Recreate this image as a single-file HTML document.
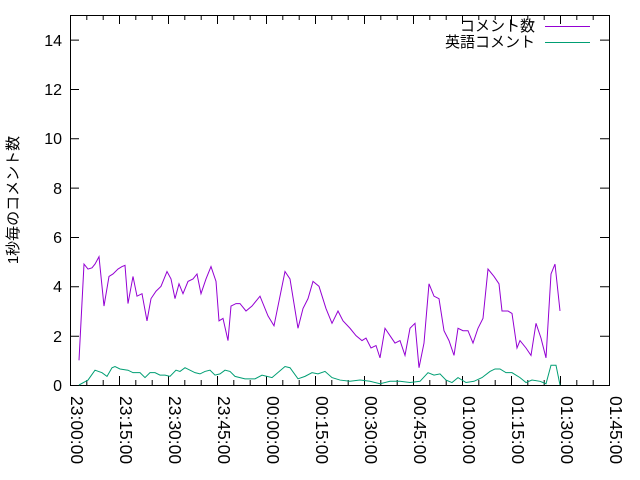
<!DOCTYPE html>
<html><head><meta charset="utf-8"><style>
body{margin:0;background:#fff}
svg{display:block;font-family:"Liberation Sans","Noto Sans CJK JP",sans-serif;font-size:16px}
</style></head><body>
<svg width="640" height="480" viewBox="0 0 640 480" xmlns="http://www.w3.org/2000/svg">
<rect width="640" height="480" fill="#fff"/>
<g stroke="#000" stroke-width="1" fill="none">
<path d="M70.5,15.5 V385.5 H609.5 V15.5 Z"/>
<path d="M70,385.5h9M609,385.5h-9M70,336.2h9M609,336.2h-9M70,286.8h9M609,286.8h-9M70,237.5h9M609,237.5h-9M70,188.1h9M609,188.1h-9M70,138.8h9M609,138.8h-9M70,89.5h9M609,89.5h-9M70,40.1h9M609,40.1h-9"/>
<path d="M70.5,385v-9M119.5,385v-9M168.5,385v-9M217.5,385v-9M266.5,385v-9M315.5,385v-9M364.5,385v-9M413.5,385v-9M462.5,385v-9M511.5,385v-9M560.5,385v-9M70.5,15v9M119.5,15v9M168.5,15v9M217.5,15v9M266.5,15v9M315.5,15v9M364.5,15v9M413.5,15v9M462.5,15v9M511.5,15v9M560.5,15v9"/>
<path d="M86.8,385v-5M103.2,385v-5M135.8,385v-5M152.2,385v-5M184.8,385v-5M201.2,385v-5M233.8,385v-5M250.2,385v-5M282.8,385v-5M299.2,385v-5M331.8,385v-5M348.2,385v-5M380.8,385v-5M397.2,385v-5M429.8,385v-5M446.2,385v-5M478.8,385v-5M495.2,385v-5M527.8,385v-5M544.2,385v-5M576.8,385v-5M593.2,385v-5M86.8,15v5M103.2,15v5M135.8,15v5M152.2,15v5M184.8,15v5M201.2,15v5M233.8,15v5M250.2,15v5M282.8,15v5M299.2,15v5M331.8,15v5M348.2,15v5M380.8,15v5M397.2,15v5M429.8,15v5M446.2,15v5M478.8,15v5M495.2,15v5M527.8,15v5M544.2,15v5M576.8,15v5M593.2,15v5"/>
</g>
<g text-anchor="end" fill="#000">
<text x="62" y="391">0</text><text x="62" y="342">2</text><text x="62" y="292">4</text><text x="62" y="243">6</text><text x="62" y="194">8</text><text x="62" y="144">10</text><text x="62" y="95">12</text><text x="62" y="46">14</text>
</g>
<g fill="#000" font-size="17.5">
<text transform="translate(71,396) rotate(90)">23:00:00</text>
<text transform="translate(120,396) rotate(90)">23:15:00</text>
<text transform="translate(169,396) rotate(90)">23:30:00</text>
<text transform="translate(218,396) rotate(90)">23:45:00</text>
<text transform="translate(267,396) rotate(90)">00:00:00</text>
<text transform="translate(316,396) rotate(90)">00:15:00</text>
<text transform="translate(365,396) rotate(90)">00:30:00</text>
<text transform="translate(414,396) rotate(90)">00:45:00</text>
<text transform="translate(463,396) rotate(90)">01:00:00</text>
<text transform="translate(512,396) rotate(90)">01:15:00</text>
<text transform="translate(561,396) rotate(90)">01:30:00</text>
<text transform="translate(610,396) rotate(90)">01:45:00</text>
</g>
<g fill="#000">
<text transform="translate(18,200) rotate(-90)" text-anchor="middle" font-size="15">1秒毎のコメント数</text>
<text x="535" y="31" text-anchor="end" font-size="15">コメント数</text>
<text x="535" y="47" text-anchor="end" font-size="15">英語コメント</text>
</g>
<path d="M545,26.5H590" stroke="#9400d3"/>
<path d="M545,42.5H590" stroke="#009e73"/>
<g transform="translate(0,385) scale(1,-24.67)" fill="none">
<polyline vector-effect="non-scaling-stroke" stroke="#9400d3" stroke-width="1" points="79,1 84,4.9 88,4.7 92,4.75 95,4.9 99,5.2 104,3.2 109,4.4 113,4.5 118,4.7 122,4.8 125,4.85 128,3.3 133,4.4 137,3.6 142,3.7 147,2.6 151,3.5 156,3.8 161,4 167,4.6 171,4.3 175,3.5 179,4.1 183,3.7 188,4.2 193,4.3 197,4.5 201,3.7 206,4.3 211,4.8 216,4.2 219,2.6 223,2.7 228,1.8 231,3.2 236,3.3 240,3.3 246,3 252,3.2 260,3.6 268,2.8 274,2.4 285,4.6 290,4.3 298,2.3 303,3.1 308,3.5 313,4.2 319,4 326,3.1 332,2.5 338,3 343,2.6 350,2.3 356,2 362,1.8 366,1.9 371,1.5 376,1.6 380,1.1 385,2.3 390,2 395,1.7 400,1.8 405,1.2 410,2.3 415,2.5 419,0.7 424,1.7 429,4.1 434,3.6 439,3.5 444,2.2 449,1.8 454,1.2 458,2.3 463,2.2 468,2.2 473,1.7 478,2.3 483,2.7 488,4.7 494,4.4 499,4.1 502,3 508,3 512,2.9 517,1.5 520,1.8 526,1.5 531,1.2 536,2.5 541,1.9 546,1.1 551,4.5 555,4.9 560,3"/>
<polyline vector-effect="non-scaling-stroke" stroke="#009e73" stroke-width="1" points="79,0 88,0.2 95,0.6 102,0.5 107,0.35 112,0.7 115,0.75 120,0.65 128,0.6 133,0.5 140,0.5 145,0.3 150,0.5 155,0.5 160,0.4 165,0.4 170,0.35 176,0.6 180,0.55 185,0.7 195,0.5 200,0.45 205,0.55 210,0.6 215,0.4 220,0.45 225,0.6 230,0.55 235,0.35 245,0.25 255,0.25 262,0.4 272,0.3 285,0.75 290,0.7 298,0.25 305,0.35 312,0.5 318,0.45 325,0.55 332,0.3 340,0.2 350,0.15 360,0.2 370,0.15 380,0.05 390,0.15 400,0.15 410,0.1 420,0.15 428,0.5 434,0.4 440,0.45 446,0.2 452,0.1 458,0.3 466,0.1 474,0.15 482,0.3 490,0.55 495,0.65 500,0.65 506,0.5 512,0.5 520,0.3 526,0.1 532,0.2 540,0.15 546,0.05 551,0.8 556,0.8 560,0"/>
</g>
</svg>
</body></html>
